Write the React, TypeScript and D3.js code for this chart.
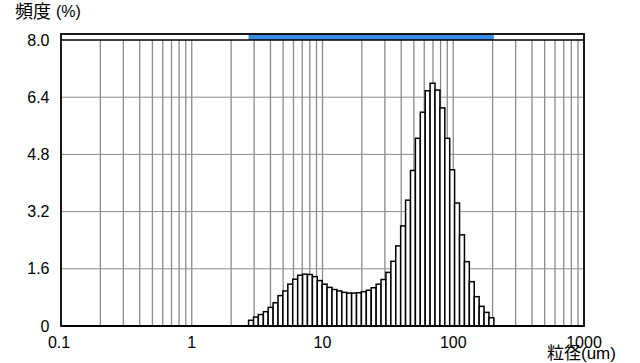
import React from 'react';
import * as d3 from 'd3';

// particle size class edges (um), 51 edges -> 50 bins
const sizeEdges = [
  2.72, 2.97, 3.23, 3.53, 3.84, 4.19, 4.57, 4.98, 5.43, 5.92,
  6.46, 7.04, 7.67, 8.37, 9.12, 9.94, 10.84, 11.82, 12.88, 14.05,
  15.31, 16.70, 18.20, 19.84, 21.63, 23.59, 25.72, 28.04, 30.57, 33.33,
  36.33, 39.61, 43.19, 47.09, 51.33, 55.97, 61.02, 66.52, 72.53, 79.08,
  86.21, 93.96, 102.4, 111.7, 121.8, 132.7, 144.7, 157.8, 172.0, 187.6,
  204.5,
];

// frequency (%) per size class
const frequency = [
  0.16, 0.25, 0.32, 0.40, 0.52, 0.65, 0.85, 0.98, 1.17, 1.31,
  1.42, 1.45, 1.44, 1.38, 1.27, 1.17, 1.08, 1.02, 0.98, 0.94,
  0.92, 0.92, 0.93, 0.96, 1.00, 1.07, 1.17, 1.30, 1.50, 1.81,
  2.24, 2.80, 3.52, 4.35, 5.25, 5.98, 6.58, 6.79, 6.60, 6.10,
  5.25, 4.37, 3.44, 2.55, 1.80, 1.24, 0.82, 0.55, 0.38, 0.23,
];

const yTicks = [0, 1.6, 3.2, 4.8, 6.4, 8.0];
const xTicks = [0.1, 1, 10, 100, 1000];
const xTickLabels = ['0.1', '1', '10', '100', '1000'];

const width = 640;
const height = 363;
const left = 61;
const right = 584;
const top = 34;
const plotTop = 40;
const bottom = 326;

const numFont = '"Liberation Sans", Arial, sans-serif';
const jpFont = '"Noto Sans CJK JP", "Noto Sans", sans-serif';

export default function App() {
  const x = d3.scaleLog().domain([0.1, 1000]).range([left, right]);
  const y = d3.scaleLinear().domain([0, 8]).range([bottom, plotTop]);

  // minor + major vertical grid values (2..9 of each decade, plus decades)
  const gridX: number[] = [];
  for (let d = 0.1; d < 1000; d *= 10) {
    for (let m = 1; m <= 10; m++) {
      const v = +(d * m).toPrecision(3);
      if (v > 0.1 && v < 1000 && !gridX.includes(v)) gridX.push(v);
    }
  }

  const bins = frequency.map((f, i) => ({ x0: sizeEdges[i], x1: sizeEdges[i + 1], f }));

  return (
    <svg width={width} height={height} style={{ position: 'absolute', left: 0, top: 0, background: '#fff' }}>
      <style>{'body{margin:0}'}</style>
      <rect x={0} y={0} width={width} height={height} fill="#fff" />

      {/* grid */}
      <g stroke="#8c8c8c" strokeWidth={1.3}>
        {gridX.map(v => (
          <line key={'gx' + v} x1={x(v)} x2={x(v)} y1={plotTop} y2={bottom} />
        ))}
        {yTicks.filter(t => t > 0 && t < 8).map(t => (
          <line key={'gy' + t} x1={left} x2={right} y1={y(t)} y2={y(t)} strokeWidth={1} />
        ))}
      </g>

      {/* measurement range band */}
      <rect
        x={x(sizeEdges[0])}
        y={top}
        width={x(sizeEdges[sizeEdges.length - 1]) - x(sizeEdges[0])}
        height={plotTop - top}
        fill="#3b8de3"
      />

      {/* histogram */}
      <g fill="#fff" stroke="#000" strokeWidth={1.5}>
        {bins.map((b, i) => (
          <rect key={i} x={x(b.x0)} y={y(b.f)} width={x(b.x1) - x(b.x0)} height={y(0) - y(b.f)} />
        ))}
      </g>

      {/* frame */}
      <g stroke="#000" fill="none">
        <line x1={left} x2={right} y1={plotTop} y2={plotTop} strokeWidth={1.5} />
        <rect x={left} y={top} width={right - left} height={bottom - top} strokeWidth={1.8} />
        <line x1={left} x2={right} y1={bottom} y2={bottom} strokeWidth={2.2} />
      </g>

      {/* y ticks */}
      <g fontFamily={numFont} fontSize={16} fill="#000" textAnchor="end">
        {yTicks.map(t => (
          <text key={t} x={49.5} y={y(t)} dy="0.35em">
            {t === 0 ? '0' : t.toFixed(1)}
          </text>
        ))}
      </g>

      {/* x ticks */}
      <g fontFamily={numFont} fontSize={16} fill="#000" textAnchor="middle">
        {xTicks.map((t, i) => (
          <text key={t} x={x(t) - (i === 0 ? 2 : 0)} y={348}>
            {xTickLabels[i]}
          </text>
        ))}
      </g>

      {/* axis titles */}
      <text x={15} y={18} fontFamily={jpFont} fontSize={18} fill="#000">頻度</text>
      <text x={56} y={17} fontFamily={numFont} fontSize={16} fill="#000">(%)</text>
      <text x={547} y={359} fontFamily={jpFont} fontSize={17} fill="#000">
        粒径<tspan fontFamily={numFont}>(um)</tspan>
      </text>
    </svg>
  );
}
